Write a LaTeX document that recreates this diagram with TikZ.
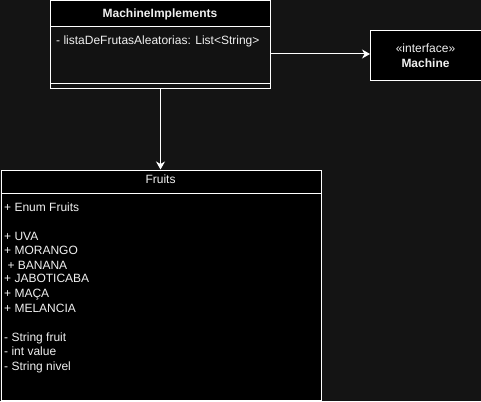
\documentclass[tikz,border=0pt]{standalone}
\usepackage{fontspec}
\setmainfont{Liberation Sans}
\usetikzlibrary{arrows.meta}
\definecolor{bgc}{HTML}{141414}
\definecolor{bodyc}{HTML}{121212}
\definecolor{txt}{HTML}{F0F0F0}
\begin{document}
\begin{tikzpicture}[x=1pt,y=-1pt,
  box/.style={draw=white,line width=1pt,inner sep=0pt,anchor=north west},
  lbl/.style={text=txt,inner sep=0pt,font=\fontsize{12}{14.4}\selectfont},
  arr/.style={draw=white,line width=1pt,-{Stealth[length=8pt,width=9pt,inset=2.5pt]}}]
\fill[bgc] (0,0) rectangle (481,401);
\useasboundingbox (0,0) rectangle (481,401);
% MachineImplements
\node[box,fill=bodyc,minimum width=220pt,minimum height=88pt] (mi) at (50,0.5) {};
\node[box,fill=black,minimum width=220pt,minimum height=26pt] (mihead) at (50,0.5) {};
\draw[white,line width=1pt] (50,84) -- (270,84);
\node[lbl,anchor=base,font=\fontsize{12}{14.4}\selectfont\bfseries] (mititle) at (160,17.8) {MachineImplements};
\node[lbl,anchor=base west] (miattr) at (56,44.3) {- listaDeFrutasAleatorias: List<String>};
% Machine interface
\node[box,fill=black,minimum width=110.5pt,minimum height=50pt] (mach) at (370,30.5) {};
\node[lbl,anchor=base] (machst) at (425.5,52.3) {«interface»};
\node[lbl,anchor=base,font=\fontsize{12}{14.4}\selectfont\bfseries] (machname) at (425.5,67.3) {Machine};
% Fruits
\node[box,fill=black,minimum width=320pt,minimum height=230pt] (fr) at (1,169.5) {};
\draw[white,line width=1pt] (1,193.5) -- (321,193.5);
\node[lbl,anchor=base] (frtitle) at (160.5,183.3) {Fruits};
\foreach \t/\yy [count=\i] in {{+ Enum Fruits}/211,{+ UVA}/240.3,{+ MORANGO}/254.6,{\hspace{3.3pt}+ BANANA}/269,{+ JABOTICABA}/282.6,{+ MAÇA}/297.4,{+ MELANCIA}/312,{- String fruit}/341,{- int value}/355.3,{- String nivel}/370}
  \node[lbl,anchor=base west] (frl\i) at (4,\yy) {\t};
% connectors
\draw[arr] ([yshift=2pt]mi.east |- mach.west) -- ([yshift=2pt]mach.west);
\draw[arr] (mi.south) -- (fr.north -| mi.south);
\end{tikzpicture}
\end{document}
